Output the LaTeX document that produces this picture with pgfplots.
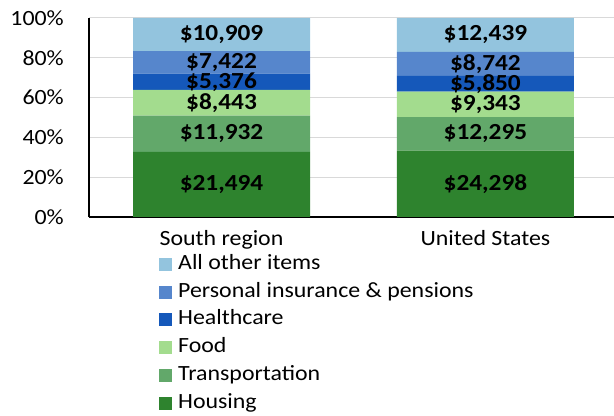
\documentclass[border=0pt]{standalone}
\usepackage{fontspec}
\setmainfont{Carlito}[FakeStretch=1.1]
\usepackage{pgfplots}
\usepackage{pgfplotstable}
\pgfplotsset{compat=1.18}
\definecolor{housing}{HTML}{2E832E}
\definecolor{transport}{HTML}{62A86A}
\definecolor{food}{HTML}{A3DC8E}
\definecolor{health}{HTML}{1558BA}
\definecolor{personal}{HTML}{5686CC}
\definecolor{other}{HTML}{93C4DE}
\definecolor{gridgray}{HTML}{D9D9D9}

% y = share of total (%), mid = centre of the segment in the stack, label = dollar value
\pgfplotstableread{
x y mid label
0 32.78 16.39 {\$21,494}
1 33.30 16.65 {\$24,298}
}\housing
\pgfplotstableread{
x y mid label
0 18.20 41.88 {\$11,932}
1 16.85 41.73 {\$12,295}
}\transport
\pgfplotstableread{
x y mid label
0 12.87 57.42 {\$8,443}
1 12.80 56.55 {\$9,343}
}\food
\pgfplotstableread{
x y mid label
0 8.20 67.95 {\$5,376}
1 8.02 66.96 {\$5,850}
}\health
\pgfplotstableread{
x y mid label
0 11.32 77.71 {\$7,422}
1 11.98 76.96 {\$8,742}
}\personal
\pgfplotstableread{
x y mid label
0 16.64 91.69 {\$10,909}
1 17.05 91.48 {\$12,439}
}\other

\pgfplotsset{
  commonframe/.style={
    at={(89bp,199bp)}, anchor=south west,
    scale only axis, width=525bp, height=199bp,
    xmin=-0.502, xmax=1.487, ymin=0, ymax=100,
  }
}

\begin{document}
\begin{tikzpicture}
\useasboundingbox (0,0) rectangle (614bp,416bp);
\begin{axis}[
  commonframe,
  ybar stacked, bar width=177bp,
  xtick={0,1}, xticklabels={South region, United States},
  ytick={0,20,40,60,80,100},
  yticklabel={\pgfmathprintnumber{\tick}\%},
  /pgf/number format/assume math mode=true,
  axis lines*=left,
  axis line style={black, line width=1.2bp},
  ymajorgrids, grid style={gridgray, line width=1bp},
  major tick length=0pt,
  tick style={draw=none},
  every tick label/.append style={font=\fontsize{21.7bp}{26bp}\selectfont, text=black},
  yticklabel style={anchor=east, inner sep=0pt, xshift=-25bp},
  xticklabel style={anchor=base, inner sep=0pt, yshift=-28bp},
  reverse legend,
  legend cell align=left,
  legend style={draw=none, fill=none, at={(0.1333,-0.186)}, anchor=north west, inner sep=0pt,
     font=\fontsize{21.7bp}{26bp}\selectfont,
     nodes={inner sep=0pt, text height=15bp, text depth=5bp},
     row sep=7.8bp,
     /tikz/every odd column/.append style={column sep=6bp}},
  legend image code/.code={\fill[#1] (0bp,-6.5bp) rectangle (13bp,6.5bp);},
]
\addplot[fill=housing, draw=none] table[x=x, y=y]{\housing};
\addlegendentry{Housing}
\addplot[fill=transport, draw=none] table[x=x, y=y]{\transport};
\addlegendentry{Transportation}
\addplot[fill=food, draw=none] table[x=x, y=y]{\food};
\addlegendentry{Food}
\addplot[fill=health, draw=none] table[x=x, y=y]{\health};
\addlegendentry{Healthcare}
\addplot[fill=personal, draw=none] table[x=x, y=y]{\personal};
\addlegendentry{Personal insurance \& pensions}
\addplot[fill=other, draw=none] table[x=x, y=y]{\other};
\addlegendentry{All other items}
\end{axis}
\begin{axis}[
  commonframe, hide axis, clip=false,
  point meta=explicit symbolic,
  nodes near coords,
  every node near coord/.append style={anchor=center, inner sep=0pt,
     font=\bfseries\fontsize{23bp}{27bp}\selectfont, text=black},
]
\addplot[draw=none, mark=none, nodes near coords] table[x=x, y=mid, meta=label]{\housing};
\addplot[draw=none, mark=none, nodes near coords] table[x=x, y=mid, meta=label]{\transport};
\addplot[draw=none, mark=none, nodes near coords] table[x=x, y=mid, meta=label]{\food};
\addplot[draw=none, mark=none, nodes near coords] table[x=x, y=mid, meta=label]{\health};
\addplot[draw=none, mark=none, nodes near coords] table[x=x, y=mid, meta=label]{\personal};
\addplot[draw=none, mark=none, nodes near coords] table[x=x, y=mid, meta=label]{\other};
\end{axis}
\end{tikzpicture}
\end{document}
